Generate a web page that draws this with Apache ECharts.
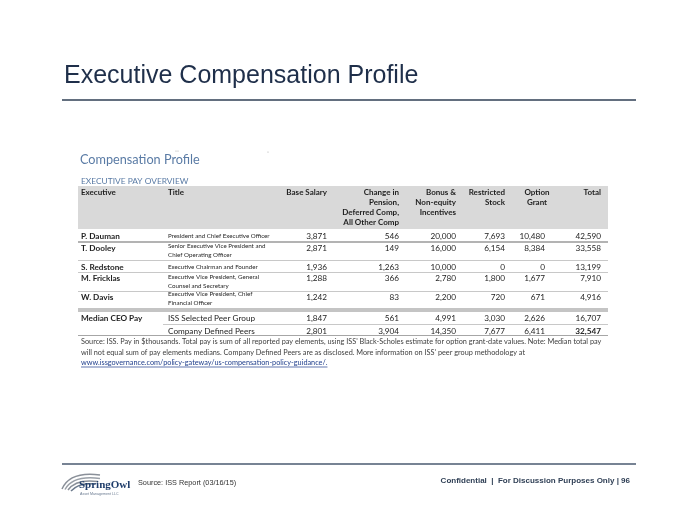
<!DOCTYPE html>
<html><head><meta charset="utf-8">
<script src="https://cdn.jsdelivr.net/npm/echarts@6/dist/echarts.min.js"></script>
<style>html,body{margin:0;padding:0;background:#fff}#c{width:700px;height:525px}</style>
</head><body><div id="c"></div>
<script>
// ---------- data ----------
const slideTitle = 'Executive Compensation Profile';
const tableTitle = 'Compensation Profile';
const tableSubtitle = 'EXECUTIVE PAY OVERVIEW';
const columnHeaders = ['Executive', 'Title', 'Base Salary', 'Change in\nPension,\nDeferred Comp,\nAll Other Comp',
  'Bonus &\nNon-equity\nIncentives', 'Restricted\nStock', 'Option\nGrant', 'Total'];
const executives = ['P. Dauman', 'T. Dooley', 'S. Redstone', 'M. Fricklas', 'W. Davis'];
const titles = ['President and Chief Executive Officer',
  'Senior Executive Vice President and\nChief Operating Officer',
  'Executive Chairman and Founder',
  'Executive Vice President, General\nCounsel and Secretary',
  'Executive Vice President, Chief\nFinancial Officer'];
const baseSalary = [3871, 2871, 1936, 1288, 1242];
const changeInPension = [546, 149, 1263, 366, 83];
const bonusNonEquity = [20000, 16000, 10000, 2780, 2200];
const restrictedStock = [7693, 6154, 0, 1800, 720];
const optionGrant = [10480, 8384, 0, 1677, 671];
const totalPay = [42590, 33558, 13199, 7910, 4916];
const medianLabel = 'Median CEO Pay';
const peerGroups = ['ISS Selected Peer Group', 'Company Defined Peers'];
const peerBaseSalary = [1847, 2801];
const peerChangeInPension = [561, 3904];
const peerBonus = [4991, 14350];
const peerRestricted = [3030, 7677];
const peerOption = [2626, 6411];
const peerTotal = [16707, 32547];
const sourceNote = [
  "Source: ISS. Pay in $thousands. Total pay is sum of all reported pay elements, using ISS' Black-Scholes estimate for option grant-date values. Note: Median total pay",
  "will not equal sum of pay elements medians. Company Defined Peers are as disclosed. More information on ISS' peer group methodology at"
];
const sourceLink = 'www.issgovernance.com/policy-gateway/us-compensation-policy-guidance/.';
const footerSource = 'Source: ISS Report (03/16/15)';
const footerRight = 'Confidential  |  For Discussion Purposes Only | 96';
const logoName = 'SpringOwl';
const logoSub = 'Asset Management LLC';

// ---------- layout ----------
const colX = [81, 168, 327, 399, 456, 505, 545, 601];
const headerY = 192, headerLH = 10.3;
const execY = [236, 248, 267, 278, 297];
const titleY = [236, 246, 267, 277, 294];
const peerY = [318, 331];
const tL = 78, tR = 608;
const TFONT = 'Lato, "Open Sans", sans-serif';
const SFONT = '"Liberation Sans", Arial, sans-serif';
const txtCol = '#1e1e1e';
const fmt = v => v.toLocaleString('en-US');

// ---------- cells ----------
const cells = [];
columnHeaders.forEach((h, i) => {
  let align = i < 2 ? 'left' : 'right', x = colX[i];
  if (i === 6) { align = 'center'; x = 537; }
  cells.push({ x, y: headerY - headerLH / 2, text: h, align, va: 'top', size: 8, weight: 'bold', lh: headerLH });
});
const execCols = [baseSalary, changeInPension, bonusNonEquity, restrictedStock, optionGrant, totalPay];
executives.forEach((name, r) => {
  cells.push({ x: colX[0], y: execY[r], text: name, align: 'left', va: 'middle', size: 8.2, weight: 'bold' });
  cells.push({ x: colX[1], y: titleY[r] - 4.75, text: titles[r], align: 'left', va: 'top', size: 6.2, weight: 'normal', lh: 9.5 });
  execCols.forEach((arr, c) => {
    cells.push({ x: colX[c + 2], y: execY[r], text: fmt(arr[r]), align: 'right', va: 'middle', size: 8.2, weight: 'normal' });
  });
});
cells.push({ x: colX[0], y: peerY[0], text: medianLabel, align: 'left', va: 'middle', size: 8.2, weight: 'bold' });
const peerCols = [peerBaseSalary, peerChangeInPension, peerBonus, peerRestricted, peerOption, peerTotal];
peerGroups.forEach((gname, r) => {
  cells.push({ x: colX[1], y: peerY[r], text: gname, align: 'left', va: 'middle', size: 8.2, weight: 'normal' });
  peerCols.forEach((arr, c) => {
    const bold = (c === 5 && r === 1);
    cells.push({ x: colX[c + 2], y: peerY[r], text: fmt(arr[r]), align: 'right', va: 'middle', size: 8.2, weight: bold ? 'bold' : 'normal' });
  });
});

// ---------- measure for underline ----------
const NOTE = 7.3;
const mctx = document.createElement('canvas').getContext('2d');
mctx.font = NOTE + 'px ' + TFONT;
const linkW = mctx.measureText(sourceLink).width;

// ---------- decorations ----------
const g = [];
g.push({ type: 'text', left: 64, top: 64, style: { text: slideTitle, font: '25px ' + SFONT, fill: '#1f2f4a' } });
g.push({ type: 'line', shape: { x1: 62, y1: 100, x2: 636, y2: 100 }, style: { stroke: '#2f3f55', lineWidth: 1.3 } });
g.push({ type: 'circle', shape: { cx: 176, cy: 151, r: 0.6 }, style: { fill: '#aaa' } });
g.push({ type: 'circle', shape: { cx: 178, cy: 151, r: 0.6 }, style: { fill: '#aaa' } });
g.push({ type: 'circle', shape: { cx: 268, cy: 152, r: 0.6 }, style: { fill: '#aaa' } });
g.push({ type: 'text', x: 80, y: 160, style: { text: tableTitle, font: '12.7px ' + TFONT, fill: '#5a7ba5', verticalAlign: 'middle' } });
g.push({ type: 'text', x: 81, y: 181, style: { text: tableSubtitle, font: '8.4px ' + TFONT, fill: '#5a7ba5', verticalAlign: 'middle' } });
g.push({ type: 'rect', z: -1, shape: { x: tL, y: 186, width: tR - tL, height: 43 }, style: { fill: '#d9d9d9' } });
g.push({ type: 'rect', z: -1, shape: { x: tL, y: 241, width: tR - tL, height: 2 }, style: { fill: '#b3b3b3' } });
[260.5, 272.5, 291.5].forEach(y => g.push({ type: 'line', z: -1, shape: { x1: tL, y1: y, x2: tR, y2: y }, style: { stroke: '#c8c8c8', lineWidth: 1 } }));
g.push({ type: 'rect', z: -1, shape: { x: tL, y: 308, width: tR - tL, height: 4 }, style: { fill: '#c4c4c4' } });
g.push({ type: 'line', z: -1, shape: { x1: 163, y1: 324.5, x2: tR, y2: 324.5 }, style: { stroke: '#c8c8c8', lineWidth: 1 } });
g.push({ type: 'line', z: -1, shape: { x1: tL, y1: 335.5, x2: tR, y2: 335.5 }, style: { stroke: '#a6a6a6', lineWidth: 1 } });
sourceNote.forEach((t, i) => g.push({ type: 'text', x: 81, y: 342 + i * 10.5, style: { text: t, font: NOTE + 'px ' + TFONT, fill: '#404040', verticalAlign: 'middle' } }));
g.push({ type: 'text', x: 81, y: 363, style: { text: sourceLink, font: NOTE + 'px ' + TFONT, fill: '#1f3e8c', verticalAlign: 'middle' } });
g.push({ type: 'line', shape: { x1: 81, y1: 367, x2: 81 + linkW, y2: 367 }, style: { stroke: '#1f3e8c', lineWidth: 0.7 } });
// footer
g.push({ type: 'line', shape: { x1: 62, y1: 464, x2: 636, y2: 464 }, style: { stroke: '#4a5a70', lineWidth: 1.3 } });
[[62, 489, 70, 471, 100, 475, '#8a9099'], [65, 489.5, 73, 475, 100, 478.5, '#9aa0a8'], [68, 490, 76, 478.5, 98, 481.5, '#8a9099'], [71, 491, 79, 482, 95, 484, '#6c7a8c']].forEach(c => {
  g.push({ type: 'bezierCurve', shape: { x1: c[0], y1: c[1], cpx1: c[2], cpy1: c[3], x2: c[4], y2: c[5] }, style: { stroke: c[6], lineWidth: 1.5, fill: null } });
});
g.push({ type: 'text', x: 79, y: 485, style: { text: logoName, font: 'bold 11px "Liberation Serif", serif', fill: '#1f3d6b', verticalAlign: 'middle' } });
g.push({ type: 'text', x: 80, y: 494, style: { text: logoSub, font: '3.6px ' + SFONT, fill: '#6a7a90', verticalAlign: 'middle' } });
g.push({ type: 'text', x: 138, y: 483, style: { text: footerSource, font: '7.3px ' + SFONT, fill: '#333', verticalAlign: 'middle' } });
g.push({ type: 'text', x: 630, y: 481, style: { text: footerRight, font: 'bold 8px ' + SFONT, fill: '#2f3f55', align: 'right', verticalAlign: 'middle' } });

const chart = echarts.init(document.getElementById('c'), null, { renderer: 'canvas' });
chart.setOption({
  animation: false,
  backgroundColor: '#fff',
  grid: { left: 0, right: 0, top: 0, bottom: 0 },
  xAxis: { type: 'value', min: 0, max: 700, show: false },
  yAxis: { type: 'value', min: 0, max: 525, inverse: true, show: false },
  graphic: g,
  series: [{
    type: 'custom',
    silent: true,
    clip: false,
    data: cells.map(c => [c.x, c.y]),
    renderItem: (params, api) => {
      const c = cells[params.dataIndex];
      const p = api.coord([api.value(0), api.value(1)]);
      return {
        type: 'text', x: p[0], y: p[1],
        style: {
          text: c.text, fill: txtCol,
          font: (c.weight === 'bold' ? 'bold ' : '') + c.size + 'px ' + TFONT,
          align: c.align, verticalAlign: c.va, lineHeight: c.lh || c.size * 1.2
        }
      };
    }
  }]
});
</script></body></html>
